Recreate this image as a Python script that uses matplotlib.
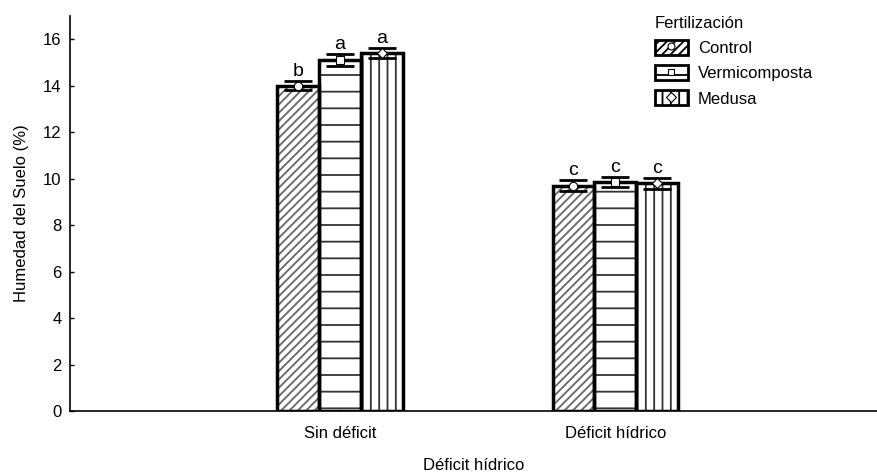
import matplotlib.pyplot as plt
from matplotlib.lines import Line2D
from matplotlib.patches import Patch
import numpy as np

plt.rcParams['font.family'] = ['Liberation Sans', 'DejaVu Sans']
plt.rcParams['hatch.linewidth'] = 1.3

# datos
grupos = ['Sin déficit', 'Déficit hídrico']
tratamientos = ['Control', 'Vermicomposta', 'Medusa']
medias = {
    'Control': [14.0, 9.7],
    'Vermicomposta': [15.1, 9.85],
    'Medusa': [15.4, 9.8],
}
errores = {
    'Control': [0.2, 0.25],
    'Vermicomposta': [0.25, 0.22],
    'Medusa': [0.22, 0.24],
}
letras = {
    'Control': ['b', 'c'],
    'Vermicomposta': ['a', 'c'],
    'Medusa': ['a', 'c'],
}

tramas = {'Control': '////', 'Vermicomposta': '-', 'Medusa': '||'}
color_trama = {'Control': '#666666', 'Vermicomposta': '#333333', 'Medusa': '#333333'}
marcadores = {'Control': 'o', 'Vermicomposta': 's', 'Medusa': 'D'}

fig = plt.figure(figsize=(8.77, 4.74), dpi=100)
ax = fig.add_axes([0.0798, 0.133, 0.9202, 0.833])

x = np.arange(len(grupos))
width = 0.152

for i, t in enumerate(tratamientos):
    pos = x + (i - 1) * width
    # relleno con trama
    ax.bar(pos, medias[t], width, color='white', edgecolor=color_trama[t],
           hatch=tramas[t], linewidth=0, zorder=2)
    # contorno negro
    ax.bar(pos, medias[t], width, color='none', edgecolor='black',
           linewidth=2.5, zorder=3)
    ax.errorbar(pos, medias[t], yerr=errores[t], fmt='none', ecolor='black',
                elinewidth=1.5, capsize=10, capthick=2, zorder=4)
    ax.plot(pos, medias[t], linestyle='none', marker=marcadores[t],
            markerfacecolor='white', markeredgecolor='black',
            markersize=6 if t != 'Medusa' else 5, markeredgewidth=0.8, zorder=5)
    for p, m, e, l in zip(pos, medias[t], errores[t], letras[t]):
        ax.text(p, m + e + 0.22, l, ha='center', va='baseline', fontsize=14)

ax.set_xlim(-0.98, 1.95)
ax.set_ylim(0, 17)
ax.set_yticks(np.arange(0, 17, 2))
ax.set_xticks(x)
ax.set_xticklabels(grupos, fontsize=12)
ax.tick_params(axis='y', direction='in', length=3, labelsize=12, width=1, pad=6)
ax.tick_params(axis='x', direction='in', length=3, width=1, pad=11)
ax.spines['top'].set_visible(False)
ax.spines['right'].set_visible(False)
ax.spines['left'].set_linewidth(1.2)
ax.spines['bottom'].set_linewidth(1.2)

ax.set_xlabel('Déficit hídrico', fontsize=12, labelpad=12)
ax.set_ylabel('Humedad del Suelo (%)', fontsize=12, labelpad=10)

handles = []
for t in tratamientos:
    parche = Patch(facecolor='white', edgecolor='black', hatch=tramas[t], linewidth=2)
    marca = Line2D([], [], linestyle='none', marker=marcadores[t],
                   markerfacecolor='white', markeredgecolor='black',
                   markersize=5, markeredgewidth=0.8)
    handles.append((parche, marca))

leg = ax.legend(handles, tratamientos, title='Fertilización', loc='upper left',
                bbox_to_anchor=(0.708, 1.035), frameon=False, fontsize=12,
                title_fontsize=12, handlelength=2.0, handleheight=1.0,
                labelspacing=0.55, handletextpad=0.6, borderpad=0.3)
leg._legend_box.align = 'left'

plt.savefig('out.png', dpi=100)
